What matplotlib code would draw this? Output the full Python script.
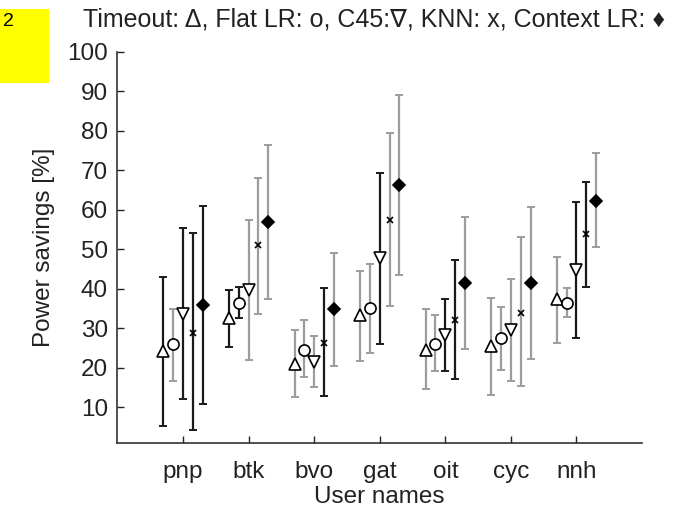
import matplotlib
matplotlib.use('Agg')
import matplotlib.pyplot as plt
import numpy as np

plt.rcParams['font.family'] = ['Liberation Sans', 'DejaVu Sans']

# Users on the x axis
users = ['pnp', 'btk', 'bvo', 'gat', 'oit', 'cyc', 'nnh']

# Power savings [%]: mean, lower and upper end of the error bar per method
timeout_mean = [24.3, 32.5, 20.9, 33.3, 24.6, 25.5, 37.3]
timeout_low = [5.4, 25.3, 12.6, 21.7, 14.6, 13.1, 26.3]
timeout_high = [43.0, 39.7, 29.7, 44.6, 34.9, 37.7, 48.1]

flatlr_mean = [26.0, 36.4, 24.6, 35.2, 26.1, 27.6, 36.5]
flatlr_low = [16.8, 32.5, 17.7, 23.8, 19.1, 19.5, 32.9]
flatlr_high = [35.0, 40.5, 32.0, 46.4, 33.3, 35.4, 40.2]

c45_mean = [33.7, 39.7, 21.5, 47.9, 28.2, 29.7, 44.7]
c45_low = [12.2, 21.9, 15.1, 26.1, 19.1, 16.7, 27.6]
c45_high = [55.3, 57.4, 28.0, 69.4, 37.4, 42.5, 62.0]

knn_mean = [28.9, 51.0, 26.3, 57.4, 32.2, 34.0, 53.8]
knn_low = [4.2, 33.7, 12.8, 35.6, 17.1, 15.3, 40.5]
knn_high = [54.0, 68.0, 40.1, 79.4, 47.2, 53.2, 67.1]

ctxlr_mean = [35.9, 57.0, 34.9, 66.3, 41.4, 41.5, 62.3]
ctxlr_low = [10.9, 37.5, 20.6, 43.6, 24.8, 22.3, 50.6]
ctxlr_high = [61.0, 76.4, 49.1, 89.1, 58.1, 60.6, 74.3]

# bar shade per user: 'k' black, 'g' gray
timeout_shade = ['k', 'k', 'g', 'g', 'g', 'g', 'g']
flatlr_shade = ['g', 'k', 'g', 'g', 'g', 'g', 'g']
c45_shade = ['k', 'g', 'g', 'k', 'k', 'g', 'k']
knn_shade = ['k', 'g', 'k', 'g', 'k', 'g', 'k']
ctxlr_shade = ['k', 'g', 'g', 'g', 'g', 'g', 'g']

shade_colors = {'k': '#1a1a1a', 'g': '#9c9c9c'}

methods = [
    # mean, low, high, shade, marker, size, face, offset
    (timeout_mean, timeout_low, timeout_high, timeout_shade, '^', 9, 'white', -0.3),
    (flatlr_mean, flatlr_low, flatlr_high, flatlr_shade, 'o', 8, 'white', -0.15),
    (c45_mean, c45_low, c45_high, c45_shade, 'v', 9, 'white', 0.0),
    (knn_mean, knn_low, knn_high, knn_shade, 'x', 4, 'black', 0.15),
    (ctxlr_mean, ctxlr_low, ctxlr_high, ctxlr_shade, 'D', 6.5, 'black', 0.3),
]

fig = plt.figure(figsize=(6.83, 5.09), dpi=100)
ax = fig.add_axes([0.172, 0.1297, 0.768, 0.7688])

x = np.arange(1, len(users) + 1)
for mean, low, high, shade, marker, size, face, off in methods:
    for i in range(len(users)):
        col = shade_colors[shade[i]]
        yerr = [[mean[i] - low[i]], [high[i] - mean[i]]]
        ax.errorbar(x[i] + off, mean[i], yerr=yerr, fmt='none', ecolor=col,
                    elinewidth=1.6, capsize=3, capthick=1.4, zorder=2)
    ax.plot(x + off, mean, linestyle='none', marker=marker, markersize=size,
            markerfacecolor=face, markeredgecolor='black', markeredgewidth=1.2,
            zorder=3)

ax.set_xlim(0, 8)
ax.set_ylim(1, 100)
ax.set_xticks(x)
ax.set_xticklabels(users)
ax.set_yticks(np.arange(10, 101, 10))
ax.spines['top'].set_visible(False)
ax.spines['right'].set_visible(False)
for s in ['left', 'bottom']:
    ax.spines[s].set_linewidth(1.2)
    ax.spines[s].set_color('#333333')
ax.tick_params(axis='y', direction='in', length=5, width=1, pad=7,
               labelsize=17.5, colors='#222222')
ax.tick_params(axis='x', direction='in', length=5, width=1, pad=13,
               labelsize=17.5, colors='#222222')
ax.set_ylabel('Power savings [%]', fontsize=17.5, color='#222222', labelpad=9)
ax.set_xlabel('User names', fontsize=17.5, color='#222222', labelpad=2)

fig.text(0.121, 0.962, 'Timeout: \u0394, Flat LR: o, C45:\u2207, KNN: x, Context LR: \u2666',
         fontsize=18, color='#222222', va='center', ha='left')

# yellow page tag in the corner
fig.patches.append(plt.Rectangle((0, 1 - 83 / 509), 49 / 683, 74 / 509,
                                 transform=fig.transFigure, facecolor='#ffff00',
                                 edgecolor='none', zorder=0))
fig.text(3 / 683, 1 - 21 / 509, '2', fontsize=14, va='center', ha='left')

fig.savefig('out.png', dpi=100)
